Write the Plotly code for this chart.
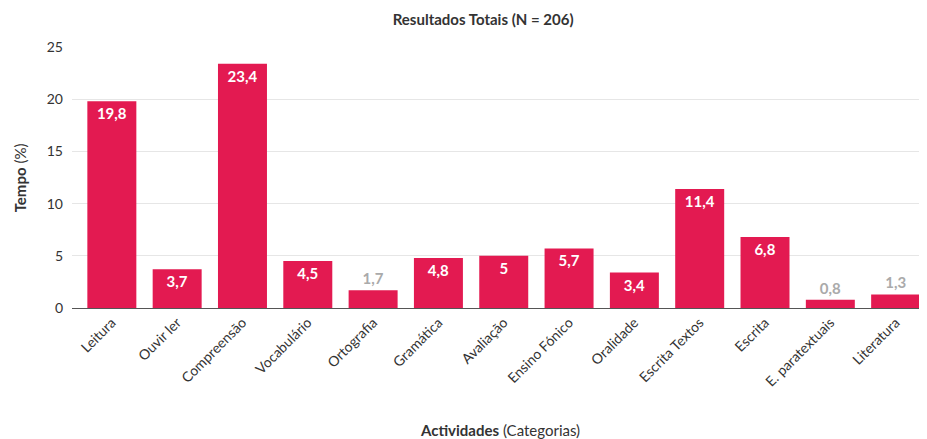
import plotly.graph_objects as go

categories = ["Leitura", "Ouvir ler", "Compreensão", "Vocabulário", "Ortografia", "Gramática",
              "Avaliação", "Ensino Fónico", "Oralidade", "Escrita Textos", "Escrita",
              "E. paratextuais", "Literatura"]
values = [19.8, 3.7, 23.4, 4.5, 1.7, 4.8, 5, 5.7, 3.4, 11.4, 6.8, 0.8, 1.3]
y_ticks = [0, 5, 10, 15, 20, 25]

labels = [f"{v:g}".replace(".", ",") for v in values]
small = [v < 2 for v in values]
positions = ["outside" if s else "inside" for s in small]
colors = ["#aaaaaa" if s else "#ffffff" for s in small]

FONT = "Lato, 'Open Sans', sans-serif"

fig = go.Figure(go.Bar(
    x=categories, y=values,
    marker=dict(color="#E31A51", line=dict(width=0)),
    text=labels, textposition=positions,
    insidetextanchor="end",
    textfont=dict(family=FONT, size=15, color=colors, weight="bold"),
    cliponaxis=False,
))

fig.update_layout(
    width=919, height=431,
    margin=dict(l=64, r=0, t=39, b=131),
    plot_bgcolor="white", paper_bgcolor="white",
    bargap=0.25,
    showlegend=False,
    font=dict(family=FONT, color="#333333"),
    title=dict(text="<b>Resultados Totais (N = 206)</b>", x=0.517, xanchor="center",
               y=0.972, yanchor="middle", font=dict(size=15, color="#333333")),
)
fig.update_xaxes(
    range=[-0.61, 12.48], tickangle=-45, tickfont=dict(size=14, color="#333333"),
    showline=True, linecolor="#555555", linewidth=1, showgrid=False, ticks="",
)
fig.update_yaxes(
    range=[0, 25], tickvals=y_ticks, tickfont=dict(size=14, color="#333333"),
    gridcolor="#e6e6e6", gridwidth=1, zeroline=False, showline=False, ticks="",
    ticklabelstandoff=8,
)
fig.add_annotation(text="<b>Actividades</b> (Categorias)", xref="paper", yref="paper",
                   x=0.5, y=-0.467, xanchor="center", yanchor="middle", showarrow=False,
                   font=dict(size=15, color="#333333"))
fig.add_annotation(text="<b>Tempo</b> (%)", xref="paper", yref="paper",
                   x=-0.061, y=0.5, xanchor="center", yanchor="middle", textangle=-90,
                   showarrow=False, font=dict(size=15, color="#333333"))

fig.write_html("out.html")
